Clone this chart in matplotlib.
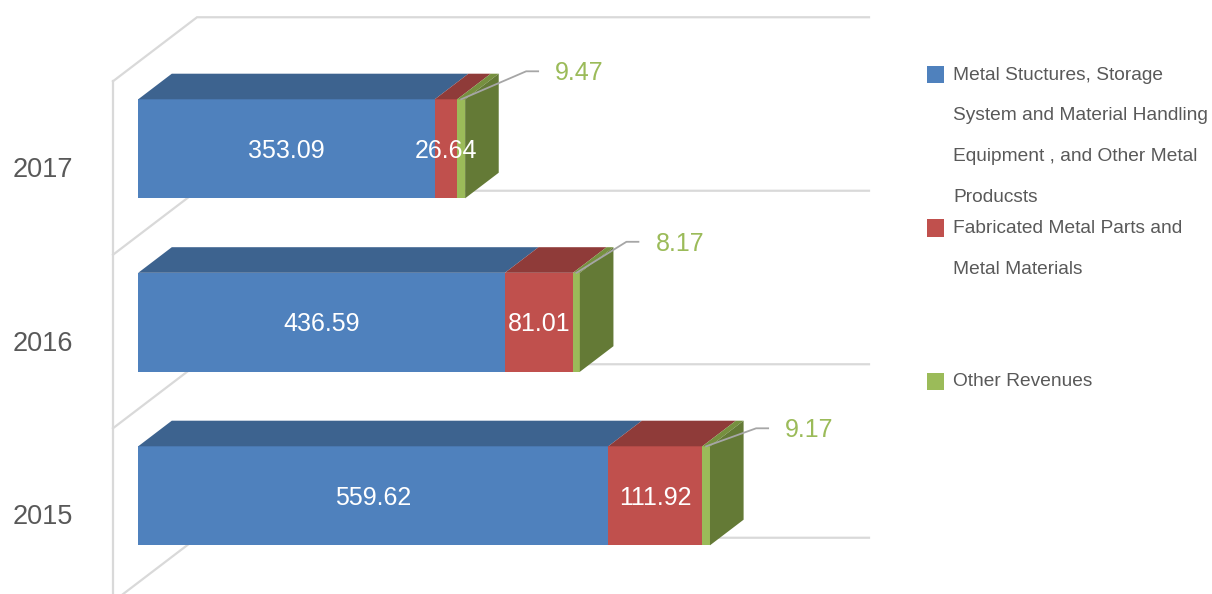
import matplotlib
matplotlib.use("Agg")
import matplotlib.pyplot as plt
from matplotlib.patches import Polygon, Rectangle

years = ["2015", "2016", "2017"]
metal_structures = [559.62, 436.59, 353.09]
fabricated_parts = [111.92, 81.01, 26.64]
other_revenues = [9.17, 8.17, 9.47]
series_names = [
    "Metal Stuctures, Storage\nSystem and Material Handling\nEquipment , and Other Metal\nProducsts",
    "Fabricated Metal Parts and\nMetal Materials",
    "Other Revenues",
]
X_MAX = 800

FRONT = ["#4F81BD", "#C0504D", "#9BBB59"]
TOP = ["#3D638F", "#8F3B39", "#76903F"]
SIDE = ["#3A5F8C", "#8A3836", "#647A36"]
GRID = "#D9D9D9"
TEXT = "#595959"

W, H = 1212, 594
PX_X = 0.84      # pixels per value unit
PX_Y = 173.5     # pixels per category
DEPTH_X = 84 / PX_X   # shift through the full depth of the plot box
DEPTH_Y = 64 / PX_Y
BAR_FRONT, BAR_BACK = 0.3, 0.7
BAR_H = 99 / PX_Y
TXT_DY = 2 / PX_Y    # nudge text down a bit
# leader line elbow offsets (px) for the small green labels, per year
LEADER_PX = [(50, 18), (50, 31), (65, 28)]

plt.rcParams["font.family"] = ["Liberation Sans", "DejaVu Sans"]

fig = plt.figure(figsize=(W / 100, H / 100), dpi=100)
ax = fig.add_axes([0, 0, 1, 1])
ax.set_xlim(-113 / PX_X, (W - 113) / PX_X)
ax.set_ylim(-79 / PX_Y, (H - 79) / PX_Y)
ax.axis("off")


def proj(x, y, depth):
    return x + depth * DEPTH_X, y + depth * DEPTH_Y


# walls
n = len(years)
bounds = [k - 0.5 for k in range(n + 1)]
ax.plot([0, 0], [bounds[0] - 1, bounds[-1]], color=GRID, lw=1.6, zorder=1)
for b in bounds:
    pts = [proj(0, b, 0), proj(0, b, 1), proj(X_MAX, b, 1)]
    ax.plot([p[0] for p in pts], [p[1] for p in pts], color=GRID, lw=1.6,
            zorder=1, solid_joinstyle="miter")

# bars
series = [metal_structures, fabricated_parts, other_revenues]
for i in range(n):
    left = 0
    top = i + BAR_H / 2
    bot = i - BAR_H / 2
    for j, vals in enumerate(series):
        w = vals[i]
        fx, fy = proj(left, i, BAR_FRONT)
        ax.barh(fy, w, left=fx, height=BAR_H, color=FRONT[j], zorder=3)
        tp = [proj(left, top, BAR_FRONT), proj(left + w, top, BAR_FRONT),
              proj(left + w, top, BAR_BACK), proj(left, top, BAR_BACK)]
        ax.add_patch(Polygon(tp, closed=True, facecolor=TOP[j], edgecolor="none", zorder=3))
        if j == len(series) - 1:
            sp = [proj(left + w, bot, BAR_FRONT), proj(left + w, top, BAR_FRONT),
                  proj(left + w, top, BAR_BACK), proj(left + w, bot, BAR_BACK)]
            ax.add_patch(Polygon(sp, closed=True, facecolor=SIDE[j], edgecolor="none", zorder=3))
        if j < len(series) - 1:
            ax.text(fx + w / 2, fy - TXT_DY, f"{w:.2f}", color="white", fontsize=18,
                    ha="center", va="center", zorder=5)
        else:
            sx, sy = proj(left + w / 2, top, BAR_FRONT)
            lx, ly = LEADER_PX[i]
            ex, ey = sx + lx / PX_X, sy + ly / PX_Y
            hx = ex + 12 / PX_X
            ax.plot([sx, ex, hx], [sy, ey, ey], color="#A6A6A6", lw=1.3, zorder=4)
            ax.text(hx + 17 / PX_X, ey - TXT_DY, f"{w:.2f}", color=FRONT[j], fontsize=18,
                    ha="left", va="center", zorder=5)
        left += w
    ax.text(-100 / PX_X, i - TXT_DY, years[i], color=TEXT, fontsize=19.5,
            ha="left", va="center")

# legend
for j, name in enumerate(series_names):
    y0 = 73 + 153.5 * j
    fig.patches.append(Rectangle((927 / W, 1 - (y0 + 10) / H), 17 / W, 17 / H,
                                 transform=fig.transFigure, facecolor=FRONT[j],
                                 edgecolor="none"))
    for k, line in enumerate(name.split("\n")):
        fig.text(953 / W, 1 - (y0 + 2 + 40.7 * k) / H, line, color=TEXT,
                 fontsize=13.8, ha="left", va="center")

fig.savefig("out.png", dpi=100)
